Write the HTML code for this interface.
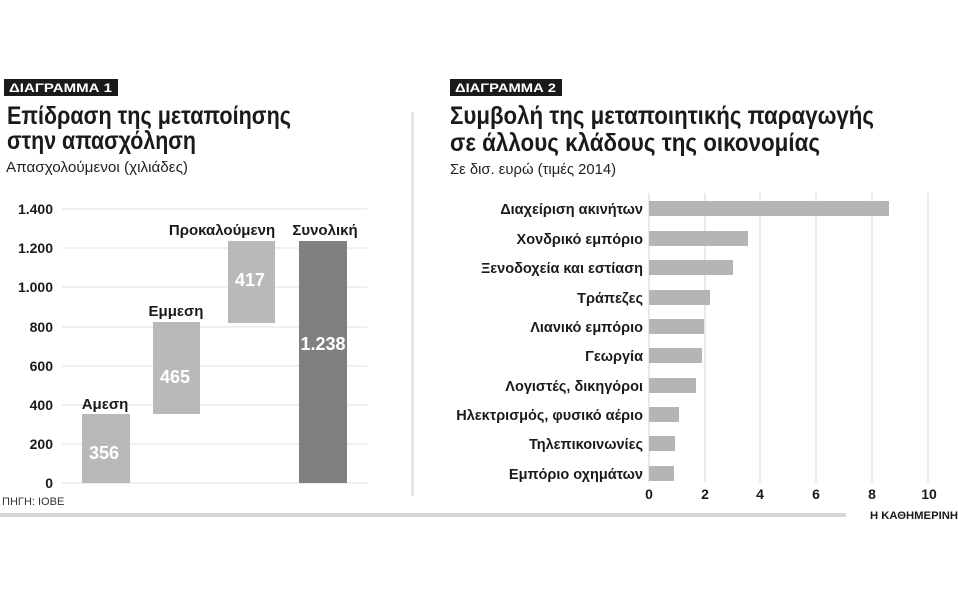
<!DOCTYPE html>
<html><head><meta charset="utf-8"><style>
html,body{margin:0;padding:0;background:#fff;}
svg{display:block;font-family:"Liberation Sans","DejaVu Sans",sans-serif;}
</style></head><body>
<svg width="958" height="598" viewBox="0 0 958 598">
<rect width="958" height="598" fill="#fff"/>
<!-- Chart 1 header -->
<rect x="4" y="79" width="114" height="17" fill="#1a1a1a"/>
<text x="9" y="92" font-size="12" font-weight="bold" fill="#fff" textLength="103" lengthAdjust="spacingAndGlyphs">ΔΙΑΓΡΑΜΜΑ 1</text>
<text x="7" y="124" font-size="25" font-weight="bold" fill="#1a1a1a" textLength="284" lengthAdjust="spacingAndGlyphs">Επίδραση της μεταποίησης</text>
<text x="7" y="149" font-size="25" font-weight="bold" fill="#1a1a1a" textLength="189" lengthAdjust="spacingAndGlyphs">στην απασχόληση</text>
<text x="6" y="172" font-size="15" fill="#222" textLength="182" lengthAdjust="spacingAndGlyphs">Απασχολούμενοι (χιλιάδες)</text>
<!-- grid chart1 -->
<g stroke="#e2e2e2" stroke-width="1">
<line x1="62" x2="367" y1="209" y2="209"/><line x1="62" x2="367" y1="248" y2="248"/>
<line x1="62" x2="367" y1="287" y2="287"/><line x1="62" x2="367" y1="327" y2="327"/>
<line x1="62" x2="367" y1="366" y2="366"/><line x1="62" x2="367" y1="405" y2="405"/>
<line x1="62" x2="367" y1="444" y2="444"/><line x1="62" x2="367" y1="483" y2="483"/>
</g>
<g font-size="14" font-weight="bold" fill="#1a1a1a" text-anchor="end">
<text x="53" y="214">1.400</text><text x="53" y="253">1.200</text><text x="53" y="292">1.000</text>
<text x="53" y="332">800</text><text x="53" y="371">600</text><text x="53" y="410">400</text>
<text x="53" y="449">200</text><text x="53" y="488">0</text>
</g>
<text x="2" y="505" font-size="11" fill="#333">ΠΗΓΗ: ΙΟΒΕ</text>
<rect x="82" y="414" width="48" height="69" fill="#b9b9bb"/>
<rect x="153" y="322" width="47" height="92" fill="#b9b9bb"/>
<rect x="228" y="241" width="47" height="82" fill="#b9b9bb"/>
<rect x="299" y="241" width="48" height="242" fill="#808083"/>
<g font-size="15" font-weight="bold" fill="#1a1a1a" text-anchor="middle">
<text x="105" y="409">Αμεση</text><text x="176" y="316">Εμμεση</text>
<text x="222" y="235">Προκαλούμενη</text><text x="325" y="235">Συνολική</text>
</g>
<g font-size="18" font-weight="bold" fill="#fff" text-anchor="middle">
<text x="104" y="459">356</text><text x="175" y="383">465</text>
<text x="250" y="286">417</text><text x="323" y="350">1.238</text>
</g>
<!-- divider -->
<rect x="411" y="112" width="3" height="384" fill="#e6e6e6"/>
<rect x="0" y="513" width="846" height="4" fill="#d6d6d6"/>
<text x="958" y="519" font-size="11" font-weight="bold" fill="#1a1a1a" text-anchor="end" textLength="88" lengthAdjust="spacingAndGlyphs">Η ΚΑΘΗΜΕΡΙΝΗ</text>
<!-- Chart 2 header -->
<rect x="450" y="79" width="112" height="17" fill="#1a1a1a"/>
<text x="455" y="92" font-size="12" font-weight="bold" fill="#fff" textLength="101" lengthAdjust="spacingAndGlyphs">ΔΙΑΓΡΑΜΜΑ 2</text>
<text x="450" y="124" font-size="25" font-weight="bold" fill="#1a1a1a" textLength="424" lengthAdjust="spacingAndGlyphs">Συμβολή της μεταποιητικής παραγωγής</text>
<text x="450" y="151" font-size="25" font-weight="bold" fill="#1a1a1a" textLength="370" lengthAdjust="spacingAndGlyphs">σε άλλους κλάδους της οικονομίας</text>
<text x="450" y="174" font-size="15" fill="#222" textLength="166" lengthAdjust="spacingAndGlyphs">Σε δισ. ευρώ (τιμές 2014)</text>
<g stroke="#e2e2e2" stroke-width="1.5">
<line x1="649" x2="649" y1="193" y2="482"/><line x1="705" x2="705" y1="193" y2="482"/>
<line x1="760" x2="760" y1="193" y2="482"/><line x1="816" x2="816" y1="193" y2="482"/>
<line x1="872" x2="872" y1="193" y2="482"/><line x1="928" x2="928" y1="193" y2="482"/>
</g>
<g font-size="14" font-weight="bold" fill="#1a1a1a" text-anchor="middle">
<text x="649" y="499">0</text><text x="705" y="499">2</text><text x="760" y="499">4</text>
<text x="816" y="499">6</text><text x="872" y="499">8</text><text x="929" y="499">10</text>
</g>
<g fill="#b5b5b7">
<rect x="649" y="201" width="240" height="15"/>
<rect x="649" y="231" width="99" height="15"/>
<rect x="649" y="260" width="84" height="15"/>
<rect x="649" y="290" width="61" height="15"/>
<rect x="649" y="319" width="55" height="15"/>
<rect x="649" y="348" width="53" height="15"/>
<rect x="649" y="378" width="47" height="15"/>
<rect x="649" y="407" width="30" height="15"/>
<rect x="649" y="436" width="26" height="15"/>
<rect x="649" y="466" width="25" height="15"/>
</g>
<g font-size="14.5" font-weight="bold" fill="#1a1a1a" text-anchor="end">
<text x="643" y="214">Διαχείριση ακινήτων</text>
<text x="643" y="244">Χονδρικό εμπόριο</text>
<text x="643" y="273">Ξενοδοχεία και εστίαση</text>
<text x="643" y="303">Τράπεζες</text>
<text x="643" y="332">Λιανικό εμπόριο</text>
<text x="643" y="361">Γεωργία</text>
<text x="643" y="391">Λογιστές, δικηγόροι</text>
<text x="643" y="420">Ηλεκτρισμός, φυσικό αέριο</text>
<text x="643" y="449">Τηλεπικοινωνίες</text>
<text x="643" y="479">Εμπόριο οχημάτων</text>
</g>
</svg>
</body></html>
